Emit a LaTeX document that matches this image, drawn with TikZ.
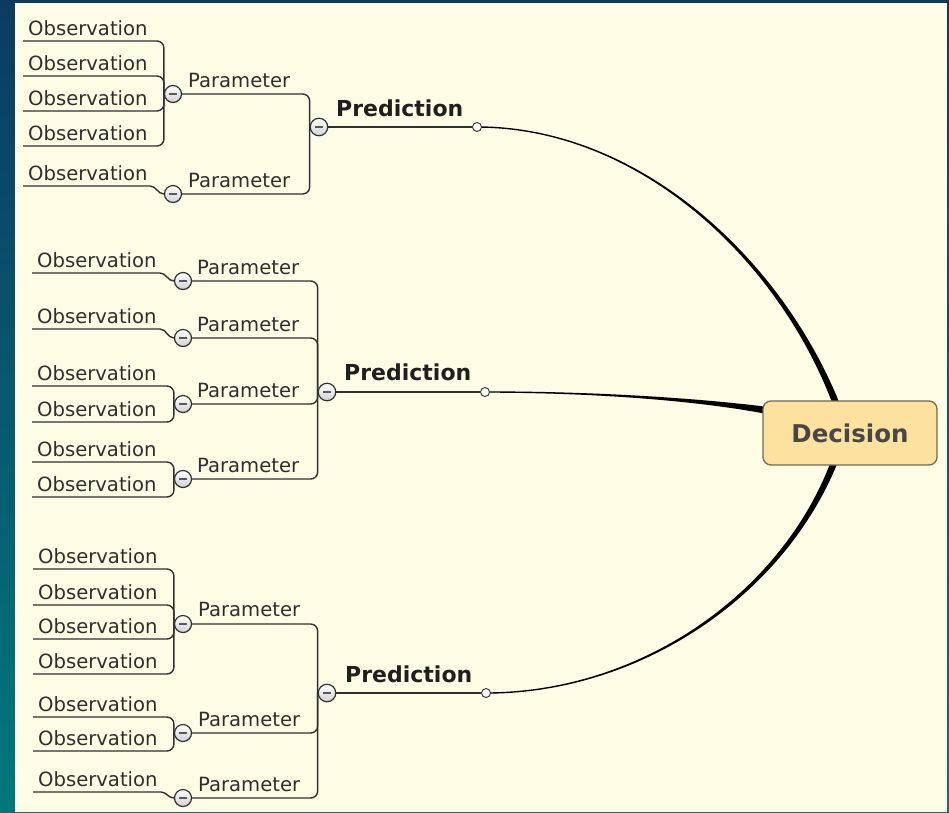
\documentclass[tikz,border=0pt]{standalone}
\usepackage{fontspec}
\setmainfont{DejaVu Sans}
\usetikzlibrary{calc}
\pgfdeclarelayer{back}
\pgfdeclarelayer{wires}
\pgfsetlayers{back,wires,main}
\definecolor{cream}{HTML}{FDFDE6}
\definecolor{frametop}{HTML}{0B3C60}
\definecolor{framebot}{HTML}{00787A}
\definecolor{ink}{HTML}{2E2E2E}
\definecolor{wire}{HTML}{303030}
\definecolor{boxfill}{HTML}{FCE29E}
\definecolor{boxedge}{HTML}{6E6A55}
\begin{document}
\begin{tikzpicture}[x=1pt,y=-1pt,
  obs/.style={anchor=base west, inner sep=0pt, text=ink, font=\fontsize{19.6}{22}\selectfont},
  param/.style={obs},
  pred/.style={anchor=base west, inner sep=0pt, text=black!88, font=\fontsize{22}{26}\selectfont\bfseries},
  knob/.style={circle, minimum size=17pt, inner sep=0pt, draw=wire, line width=1.2pt,
    top color=white, bottom color=black!18,
    path picture={\draw[line width=1.3pt, black!65]
      ([xshift=-4pt]path picture bounding box.center) --
      ([xshift=4pt]path picture bounding box.center);}},
  bigknob/.style={knob, minimum size=17.5pt},
  dot/.style={circle, minimum size=9pt, inner sep=0pt, draw=wire, line width=0.9pt, fill=white},
  link/.style={draw=wire, line width=1.4pt, rounded corners=7pt},
  tie/.style={draw=wire, line width=1.4pt},
  taper/.style={fill=black},
]
\useasboundingbox (0,0) rectangle (949,812);

% frame and paper
\begin{pgfonlayer}{back}
  \shade[top color=frametop, bottom color=framebot] (0,0) rectangle (949,812);
  \fill[cream] (15,3) rectangle (947,812);
\end{pgfonlayer}

% central decision
\node[draw=boxedge, fill=boxfill, line width=1.3pt, rounded corners=8pt,
      minimum width=174pt, minimum height=64pt, inner sep=0pt,
      font=\fontsize{24.5}{28}\selectfont\bfseries, text=black!72] (dec) at (850,433) {Decision};
\coordinate (e1) at ($(dec.north)+(-14,3)$);
\coordinate (e2) at ($(dec.west)+(2,-23)$);
\coordinate (e3) at ($(dec.south)+(-16,-3)$);

% ---------------- upper branch ----------------
\node[knob] (kA1) at (173,94) {};
\node[knob] (kA2) at (173,194) {};
\node[bigknob] (pA) at (319,127) {};
\node[dot] (dA) at (477,127) {};
\node[pred] (tPA) at (336,116) {Prediction};
\node[param] (tpA1) at (188,87) {Parameter};
\node[param] (tpA2) at (188,187) {Parameter};
\foreach \y [count=\i] in {41,76,111,146}{
  \coordinate (oA1\i) at (23,\y);
  \node[obs] (tA1\i) at (28,\y-6) {Observation};
  \begin{pgfonlayer}{wires}
    \draw[link] (oA1\i) -| (kA1.west);
  \end{pgfonlayer}
}
\coordinate (oA2) at (23,186);
\node[obs] (tA2) at (28,180) {Observation};
\begin{pgfonlayer}{wires}
  \draw[tie] (oA2) -- +(127,0) to[out=0,in=180] (kA2.west);
  \draw[link] (kA1.east) -| (pA.west);
  \draw[link] (kA2.east) -| (pA.west);
  \draw[tie] (pA.east) -- (dA.west);
  \fill[taper] ($(dA)+(0,-0.7)$) .. controls (640,126.4) and (781.5,259) .. ($(e1)+(3.6,0)$)
    -- ($(e1)+(-3.6,0)$) .. controls (778.5,261) and (640,127.6) .. ($(dA)+(0,0.7)$) -- cycle;
\end{pgfonlayer}

% ---------------- middle branch ----------------
\node[knob] (kB1) at (183,281) {};
\node[knob] (kB2) at (183,338) {};
\node[knob] (kB3) at (183,404) {};
\node[knob] (kB4) at (183,479) {};
\node[bigknob] (pB) at (327,392) {};
\node[dot] (dB) at (485,392) {};
\node[pred] (tPB) at (344,380) {Prediction};
\node[param] (tpB1) at (197,274) {Parameter};
\node[param] (tpB2) at (197,331) {Parameter};
\node[param] (tpB3) at (197,397) {Parameter};
\node[param] (tpB4) at (197,472) {Parameter};
\coordinate (oB1) at (32,273);
\coordinate (oB2) at (32,329);
\coordinate (oB31) at (32,386);
\coordinate (oB32) at (32,422);
\coordinate (oB41) at (32,462);
\coordinate (oB42) at (32,497);
\node[obs] (tB1) at (37,267) {Observation};
\node[obs] (tB2) at (37,323) {Observation};
\node[obs] (tB31) at (37,380) {Observation};
\node[obs] (tB32) at (37,416) {Observation};
\node[obs] (tB41) at (37,456) {Observation};
\node[obs] (tB42) at (37,491) {Observation};
\begin{pgfonlayer}{wires}
  \draw[tie] (oB1) -- +(128,0) to[out=0,in=180] (kB1.west);
  \draw[tie] (oB2) -- +(128,0) to[out=0,in=180] (kB2.west);
  \draw[link] (oB31) -| (kB3.west);
  \draw[link] (oB32) -| (kB3.west);
  \draw[link] (oB41) -| (kB4.west);
  \draw[link] (oB42) -| (kB4.west);
  \foreach \k in {kB1,kB2,kB3,kB4} \draw[link] (\k.east) -| (pB.west);
  \draw[tie] (pB.east) -- (dB.west);
  \fill[taper] ($(dB)+(0,-0.7)$) .. controls (600,391.4) and (700,398.6) .. ($(e2)+(0,-3.5)$)
    -- ($(e2)+(0,3.5)$) .. controls (700,401.4) and (600,392.6) .. ($(dB)+(0,0.7)$) -- cycle;
\end{pgfonlayer}

% ---------------- lower branch ----------------
\node[knob] (kC1) at (183,624) {};
\node[knob] (kC2) at (183,733) {};
\node[knob] (kC3) at (183,798) {};
\node[bigknob] (pC) at (327,693) {};
\node[dot] (dC) at (486,693) {};
\node[pred] (tPC) at (345,682) {Prediction};
\node[param] (tpC1) at (198,616) {Parameter};
\node[param] (tpC2) at (198,726) {Parameter};
\node[param] (tpC3) at (198,791) {Parameter};
\foreach \y [count=\i] in {569,605,639,674}{
  \coordinate (oC1\i) at (33,\y);
  \node[obs] (tC1\i) at (38,\y-6) {Observation};
  \begin{pgfonlayer}{wires}
    \draw[link] (oC1\i) -| (kC1.west);
  \end{pgfonlayer}
}
\foreach \y [count=\i] in {717,751}{
  \coordinate (oC2\i) at (33,\y);
  \node[obs] (tC2\i) at (38,\y-6) {Observation};
  \begin{pgfonlayer}{wires}
    \draw[link] (oC2\i) -| (kC2.west);
  \end{pgfonlayer}
}
\coordinate (oC3) at (33,792);
\node[obs] (tC3) at (38,786) {Observation};
\begin{pgfonlayer}{wires}
  \draw[tie] (oC3) -- +(128,0) to[out=0,in=180] (kC3.west);
  \foreach \k in {kC1,kC2,kC3} \draw[link] (\k.east) -| (pC.west);
  \draw[tie] (pC.east) -- (dC.west);
  \fill[taper] ($(dC)+(0,0.7)$) .. controls (640,693.6) and (783.5,596.5) .. ($(e3)+(3.6,0)$)
    -- ($(e3)+(-3.6,0)$) .. controls (780.5,593.5) and (640,692.4) .. ($(dC)+(0,-0.7)$) -- cycle;
\end{pgfonlayer}
\end{tikzpicture}
\end{document}
